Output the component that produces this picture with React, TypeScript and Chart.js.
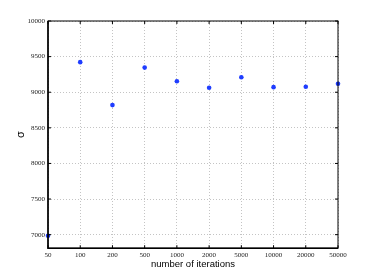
import React, { useEffect, useRef } from "react";
import { Chart, registerables } from "chart.js";

Chart.register(...registerables);

const iterationLabels = ["50", "100", "200", "500", "1000", "2000", "5000", "10000", "20000", "50000"];
const sigmaValues = [6985, 9422, 8819, 9346, 9155, 9062, 9211, 9071, 9076, 9118];
const yTicks = [7000, 7500, 8000, 8500, 9000, 9500, 10000];

const boxPlugin = {
  id: "boxTicks",
  afterDraw(chart: any) {
    const { ctx, chartArea } = chart;
    const xs = chart.scales.x;
    const ys = chart.scales.y;
    ctx.save();
    ctx.strokeStyle = "#000";
    ctx.lineWidth = 1;
    ctx.strokeRect(chartArea.left, chartArea.top, chartArea.right - chartArea.left, chartArea.bottom - chartArea.top);
    const len = 3;
    ctx.beginPath();
    xs.ticks.forEach((t: any) => {
      const px = xs.getPixelForValue(t.value);
      ctx.moveTo(px, chartArea.bottom);
      ctx.lineTo(px, chartArea.bottom - len);
      ctx.moveTo(px, chartArea.top);
      ctx.lineTo(px, chartArea.top + len);
    });
    ys.ticks.forEach((t: any) => {
      const py = ys.getPixelForValue(t.value);
      ctx.moveTo(chartArea.left, py);
      ctx.lineTo(chartArea.left + len, py);
      ctx.moveTo(chartArea.right, py);
      ctx.lineTo(chartArea.right - len, py);
    });
    ctx.stroke();
    ctx.lineWidth = 1.5;
    ctx.beginPath();
    ctx.moveTo(chartArea.left, chartArea.top);
    ctx.lineTo(chartArea.left, chartArea.bottom);
    ctx.lineTo(chartArea.right, chartArea.bottom);
    ctx.stroke();
    ctx.restore();
  },
};

export default function App() {
  const ref = useRef<HTMLCanvasElement>(null);
  useEffect(() => {
    if (!ref.current) return;
    const chart = new Chart(ref.current, {
      type: "scatter",
      data: {
        datasets: [
          {
            data: sigmaValues.map((v, i) => ({ x: i, y: v })),
            backgroundColor: "#1f3dff",
            borderColor: "#1f3dff",
            pointRadius: 2.3,
            borderWidth: 0,
            clip: false as any,
          },
        ],
      },
      options: {
        animation: false,
        responsive: false,
        maintainAspectRatio: false,
        plugins: { legend: { display: false }, tooltip: { enabled: false } },
        layout: { padding: { left: 14, right: 36, top: 21, bottom: 10 } },
        scales: {
          x: {
            type: "linear",
            min: 0,
            max: iterationLabels.length - 1,
            afterFit: (scale: any) => {
              scale.height -= 4;
            },
            ticks: {
              stepSize: 1,
              autoSkip: false,
              maxRotation: 0,
              padding: 3,
              color: "#222",
              font: { family: "Liberation Serif", size: 7 },
              callback: (v: any) => iterationLabels[v] ?? "",
            },
            grid: { color: "#c4c4c4", tickLength: 0, lineWidth: 1 },
            border: { display: false, dash: [1, 2] } as any,
            title: {
              display: true,
              text: "number of iterations",
              color: "#000",
              font: { family: "Liberation Sans", size: 9.5 },
              padding: { top: 0, bottom: 0 },
            },
          },
          y: {
            min: 6810,
            max: 10000,
            afterBuildTicks: (scale: any) => {
              scale.ticks = yTicks.map((v) => ({ value: v }));
            },
            afterFit: (scale: any) => {
              scale.width = 34;
            },
            ticks: {
              padding: 3,
              color: "#222",
              font: { family: "Liberation Serif", size: 7 },
              callback: (v: any) => String(v),
            },
            grid: { color: "#c4c4c4", tickLength: 0, lineWidth: 1 },
            border: { display: false, dash: [1, 2] } as any,
            title: {
              display: true,
              text: "σ",
              color: "#000",
              font: { family: "Liberation Sans", size: 11 },
              padding: { top: 0, bottom: 0 },
            },
          },
        },
      },
      plugins: [boxPlugin],
    });
    return () => chart.destroy();
  }, []);
  return (
    <div style={{ position: "fixed", left: 0, top: 0, width: 374, height: 280, background: "#fff" }}>
      <canvas ref={ref} width={374} height={280} style={{ width: 374, height: 280 }} />
    </div>
  );
}
